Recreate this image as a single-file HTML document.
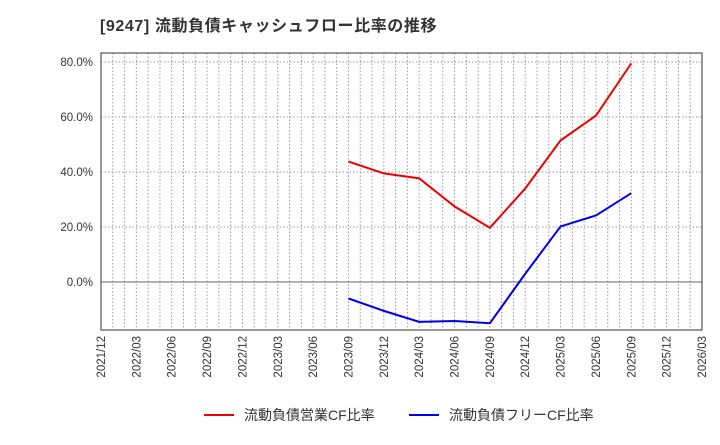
<!DOCTYPE html>
<html><head><meta charset="utf-8"><style>
body{margin:0;background:#fff;font-family:"Liberation Sans","Noto Sans CJK JP",sans-serif;}
</style></head><body>
<svg id="c" width="720" height="440" xmlns="http://www.w3.org/2000/svg">
<text x="100" y="31" font-size="16" font-weight="bold" fill="#333" letter-spacing="0.6" font-family="Liberation Sans, Noto Sans CJK JP, sans-serif">[9247]  流動負債キャッシュフロー比率の推移</text>
<g id="grid"></g><g id="axes"></g><g id="series"></g>
<g font-size="14" fill="#333">
<line x1="204" y1="415" x2="234" y2="415" stroke="#e00" stroke-width="2"/>
<text x="244" y="420">流動負債営業CF比率</text>
<line x1="409" y1="415" x2="439" y2="415" stroke="#00e" stroke-width="2"/>
<text x="449" y="420">流動負債フリーCF比率</text>
</g>
</svg>
<script>
const xLabels=["2021/12","2022/03","2022/06","2022/09","2022/12","2023/03","2023/06","2023/09","2023/12","2024/03","2024/06","2024/09","2024/12","2025/03","2025/06","2025/09","2025/12","2026/03"];
const yTicks=[0,20,40,60,80];
const seriesCats=["2023/09","2023/12","2024/03","2024/06","2024/09","2024/12","2025/03","2025/06","2025/09"];
const opCF=[43.8,39.5,37.7,27.5,19.7,34,51.5,60.5,79.5];
const freeCF=[-6,-10.5,-14.5,-14.2,-15,3,20.2,24.2,32.3];
const NS="http://www.w3.org/2000/svg";
const L=101,R=702,T=53,B=330;
const x=i=>L+(R-L)*i/(xLabels.length-1);
const y=v=>282-v*55/20;
function mk(t,a,p){const e=document.createElementNS(NS,t);for(const k in a)e.setAttribute(k,a[k]);p.appendChild(e);return e;}
const g=document.getElementById('grid'),ax=document.getElementById('axes'),s=document.getElementById('series');
for(let m=1;m<(xLabels.length-1)*3;m++){const xx=L+(R-L)*m/((xLabels.length-1)*3);
const l=mk('line',{x1:xx,x2:xx,y1:T,y2:B,stroke:'#999','stroke-dasharray':'1.5,2','stroke-width':1},g);
}
yTicks.forEach(v=>{const l=mk('line',{x1:L,x2:R,y1:y(v),y2:y(v),stroke:v===0?'#666':'#999','stroke-dasharray':v===0?'none':'1.5,2','stroke-width':1},g);

const t=mk('text',{x:L-8,y:y(v)+4,'text-anchor':'end','font-size':11.5,fill:'#333'},ax);t.textContent=v.toFixed(1)+'%';
});
const fr=mk('rect',{x:L,y:T,width:R-L,height:B-T,fill:'none',stroke:'#333','stroke-width':1},ax);

xLabels.forEach((lb,i)=>{const t=mk('text',{transform:`translate(${x(i)+4},${B+6}) rotate(-90)`,'text-anchor':'end','font-size':11.5,fill:'#333'},ax);t.textContent=lb;
});
function line(vals,col,name){const pts=vals.map((v,i)=>x(xLabels.indexOf(seriesCats[i]))+','+y(v)).join(' ');
const p=mk('polyline',{points:pts,fill:'none',stroke:col,'stroke-width':2},s);
}
line(opCF,'#e00','operating-cf-line');line(freeCF,'#00e','free-cf-line');
</script>
</body></html>
